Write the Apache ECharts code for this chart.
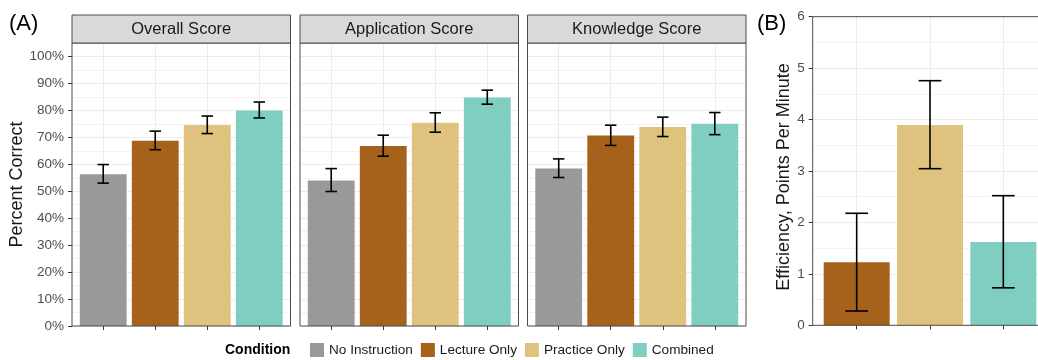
<!DOCTYPE html>
<html>
<head>
<meta charset="utf-8">
<script src="https://cdn.jsdelivr.net/npm/echarts@6/dist/echarts.min.js"></script>
<style>
  html, body { margin: 0; padding: 0; background: #ffffff; }
  #chart { width: 1038px; height: 360px; }
</style>
</head>
<body>
<div id="chart"></div>
<script>
// Conditions and their fill colours
const conditions = ['No Instruction', 'Lecture Only', 'Practice Only', 'Combined'];
const conditionColors = ['#999999', '#A6611A', '#DFC27D', '#80CDC1'];

// Panel (A): percent correct per score type (proportions), with error-bar limits
const scoreFacets = ['Overall Score', 'Application Score', 'Knowledge Score'];
const overallMean = [0.563, 0.687, 0.746, 0.800];
const overallLow = [0.530, 0.654, 0.714, 0.772];
const overallHigh = [0.599, 0.723, 0.779, 0.831];
const applicationMean = [0.540, 0.668, 0.754, 0.848];
const applicationLow = [0.499, 0.630, 0.719, 0.823];
const applicationHigh = [0.584, 0.708, 0.791, 0.875];
const knowledgeMean = [0.584, 0.707, 0.738, 0.750];
const knowledgeLow = [0.551, 0.670, 0.703, 0.710];
const knowledgeHigh = [0.620, 0.745, 0.775, 0.792];
const percentTicks = [0, 0.1, 0.2, 0.3, 0.4, 0.5, 0.6, 0.7, 0.8, 0.9, 1.0];

// Panel (B): efficiency, points per minute
const efficiencyConditions = ['Lecture Only', 'Practice Only', 'Combined'];
const efficiencyMean = [1.225, 3.895, 1.620];
const efficiencyLow = [0.278, 3.045, 0.729];
const efficiencyHigh = [2.178, 4.756, 2.520];
const efficiencyTicks = [0, 1, 2, 3, 4, 5, 6];

const facetMeans = [overallMean, applicationMean, knowledgeMean];
const facetLows = [overallLow, applicationLow, knowledgeLow];
const facetHighs = [overallHigh, applicationHigh, knowledgeHigh];

const FONT = '"Liberation Sans", Arial, Helvetica, sans-serif';
const INK = '#1a1a1a';
const TICK_TEXT = '#4d4d4d';
const BORDER = '#4d4d4d';
const GRID_MAJOR = '#ebebeb';
const GRID_MINOR = '#f3f3f3';

// Layout of the facet panels
const facetLeft = [72, 300, 527.5];
const facetWidth = 218.5;
const facetTop = 43;
const facetHeight = 283;
const stripTop = 15;
const stripHeight = 28;

const panelB = { left: 812.7, top: 16.7, width: 234.6, height: 308.6 };

// Error bar: vertical whisker with two caps, drawn in data coordinates
function errorBarRenderer(capWidth) {
  return function (params, api) {
    const x = api.value(0);
    const top = api.coord([x, api.value(2)]);
    const bot = api.coord([x, api.value(1)]);
    const half = api.size([capWidth, 0])[0] / 2;
    const style = { stroke: '#000000', lineWidth: 1.6 };
    return {
      type: 'group',
      children: [
        { type: 'line', shape: { x1: top[0], y1: top[1], x2: bot[0], y2: bot[1] }, style },
        { type: 'line', shape: { x1: top[0] - half, y1: top[1], x2: top[0] + half, y2: top[1] }, style },
        { type: 'line', shape: { x1: bot[0] - half, y1: bot[1], x2: bot[0] + half, y2: bot[1] }, style }
      ]
    };
  };
}

// Hidden y axis that only draws the major/minor horizontal grid lines
function gridLineAxis(gridIndex, max, step) {
  return {
    gridIndex, type: 'value', min: 0, max, interval: step, position: 'left',
    axisLine: { show: false }, axisTick: { show: false }, axisLabel: { show: false },
    splitLine: { show: true, lineStyle: { color: [GRID_MAJOR, GRID_MINOR], width: 1 } }
  };
}

const grids = [];
const xAxes = [];
const yAxes = [];
const series = [];
const graphics = [];

scoreFacets.forEach((facet, i) => {
  grids.push({
    left: facetLeft[i], top: facetTop, width: facetWidth, height: facetHeight,
    show: true, borderColor: BORDER, borderWidth: 1, backgroundColor: 'transparent',
    z: 5, outerBoundsMode: 'none', containLabel: false
  });
  xAxes.push({
    gridIndex: i, type: 'value', min: 0.4, max: 4.6, splitNumber: 4,
    axisLine: { show: false },
    axisLabel: { show: false },
    axisTick: { show: true, length: 4, customValues: [1, 2, 3, 4], lineStyle: { color: '#333333' } },
    splitLine: { show: true, lineStyle: { color: GRID_MAJOR, width: 1 } }
  });
  const yIndex = yAxes.length;
  yAxes.push({
    gridIndex: i, type: 'value', min: 0, max: 1.05, position: 'left',
    axisLine: { show: false },
    axisTick: { show: i === 0, length: 4, customValues: percentTicks, lineStyle: { color: '#333333' } },
    axisLabel: {
      show: i === 0, customValues: percentTicks, margin: 8,
      formatter: v => Math.round(v * 100) + '%',
      fontSize: 13.5, color: TICK_TEXT, fontFamily: FONT
    },
    splitLine: { show: false },
    name: i === 0 ? 'Percent Correct' : '',
    nameLocation: 'middle', nameGap: 45,
    nameTextStyle: { fontSize: 18, color: INK, fontFamily: FONT }
  });
  yAxes.push(gridLineAxis(i, 1.05, 0.05));

  const barWidth = 0.9 * facetWidth / 4.2;
  conditions.forEach((cond, j) => {
    series.push({
      type: 'bar', name: cond, xAxisIndex: i, yAxisIndex: yIndex,
      data: [[j + 1, facetMeans[i][j]]],
      barWidth: barWidth, barGap: '-100%',
      itemStyle: { color: conditionColors[j] },
      z: 2, silent: true
    });
  });
  series.push({
    type: 'custom', name: 'errorbars-' + i, xAxisIndex: i, yAxisIndex: yIndex,
    data: conditions.map((c, j) => [j + 1, facetLows[i][j], facetHighs[i][j]]),
    encode: { x: 0, y: [1, 2] },
    renderItem: errorBarRenderer(0.22),
    z: 4, silent: true
  });

  // Facet strip
  graphics.push({
    type: 'rect', z: 10,
    shape: { x: facetLeft[i], y: stripTop, width: facetWidth, height: stripHeight },
    style: { fill: '#d9d9d9', stroke: BORDER, lineWidth: 1 }
  });
  graphics.push({
    type: 'text', z: 11,
    x: facetLeft[i] + facetWidth / 2, y: stripTop + stripHeight / 2 + 0.5,
    style: { text: facet, fill: INK, fontSize: 16.5, fontFamily: FONT, align: 'center', verticalAlign: 'middle' }
  });
});

// Panel (B)
const b = scoreFacets.length;
grids.push({
  left: panelB.left, top: panelB.top, width: panelB.width, height: panelB.height,
  show: true, borderColor: BORDER, borderWidth: 1, backgroundColor: 'transparent',
  z: 5, outerBoundsMode: 'none', containLabel: false
});
xAxes.push({
  gridIndex: b, type: 'value', min: 0.4, max: 3.6, splitNumber: 3,
  axisLine: { show: false },
  axisLabel: { show: false },
  axisTick: { show: true, length: 4, customValues: [1, 2, 3], lineStyle: { color: '#333333' } },
  splitLine: { show: true, lineStyle: { color: GRID_MAJOR, width: 1 } }
});
const yIndexB = yAxes.length;
yAxes.push({
  gridIndex: b, type: 'value', min: 0, max: 6, position: 'left',
  axisLine: { show: false },
  axisTick: { show: true, length: 4, customValues: efficiencyTicks, lineStyle: { color: '#333333' } },
  axisLabel: {
    show: true, customValues: efficiencyTicks, margin: 8,
    formatter: v => String(v),
    fontSize: 13.5, color: TICK_TEXT, fontFamily: FONT
  },
  splitLine: { show: false },
  name: 'Efficiency, Points Per Minute',
  nameLocation: 'middle', nameGap: 20,
  nameTextStyle: { fontSize: 18, color: INK, fontFamily: FONT, padding: [0, 12, 0, 0] }
});
yAxes.push(gridLineAxis(b, 6, 0.5));

const barWidthB = 0.9 * panelB.width / 3.2;
efficiencyConditions.forEach((cond, j) => {
  series.push({
    type: 'bar', name: cond, xAxisIndex: b, yAxisIndex: yIndexB,
    data: [[j + 1, efficiencyMean[j]]],
    barWidth: barWidthB, barGap: '-100%',
    itemStyle: { color: conditionColors[conditions.indexOf(cond)] },
    z: 2, silent: true
  });
});
series.push({
  type: 'custom', name: 'errorbars-b', xAxisIndex: b, yAxisIndex: yIndexB,
  data: efficiencyConditions.map((c, j) => [j + 1, efficiencyLow[j], efficiencyHigh[j]]),
  encode: { x: 0, y: [1, 2] },
  renderItem: errorBarRenderer(0.31),
  z: 4, silent: true
});

// Panel tags and legend title
graphics.push({
  type: 'text', x: 9, y: 24,
  style: { text: '(A)', fill: '#000000', fontSize: 22, fontFamily: FONT, verticalAlign: 'middle' }
});
graphics.push({
  type: 'text', x: 757, y: 24,
  style: { text: '(B)', fill: '#000000', fontSize: 22, fontFamily: FONT, verticalAlign: 'middle' }
});
graphics.push({
  type: 'text', x: 225, y: 350.5,
  style: { text: 'Condition', fill: '#000000', fontSize: 14, fontWeight: 'bold', fontFamily: FONT, verticalAlign: 'middle' }
});

const chart = echarts.init(document.getElementById('chart'), null, { renderer: 'canvas' });
chart.setOption({
  animation: false,
  backgroundColor: '#ffffff',
  textStyle: { fontFamily: FONT },
  grid: grids,
  xAxis: xAxes,
  yAxis: yAxes,
  legend: {
    data: conditions,
    left: 305, top: 338,
    orient: 'horizontal',
    icon: 'rect', itemWidth: 14, itemHeight: 14, itemGap: 8,
    selectedMode: false,
    textStyle: { fontSize: 13.6, color: INK, fontFamily: FONT }
  },
  graphic: graphics,
  series: series
});
</script>
</body>
</html>
